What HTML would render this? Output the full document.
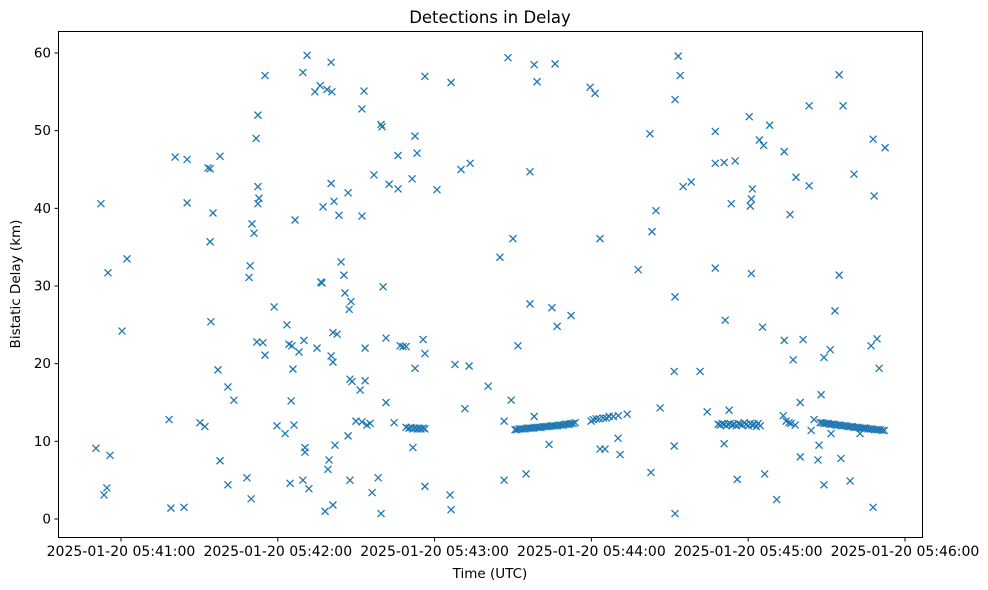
<!DOCTYPE html>
<html><head><meta charset="utf-8"><style>
html,body{margin:0;padding:0;background:#fff;}
svg{display:block;font-family:"DejaVu Sans","Liberation Sans",sans-serif;}
</style></head><body>
<svg id="chart" width="988" height="590" viewBox="0 0 988 590" xmlns="http://www.w3.org/2000/svg">
<rect x="0" y="0" width="988" height="590" fill="#fff"/>
<text x="490" y="23" text-anchor="middle" font-size="16.5">Detections in Delay</text>
<text x="490" y="578" text-anchor="middle" font-size="13.5">Time (UTC)</text>
<text transform="translate(20,284) rotate(-90)" text-anchor="middle" font-size="13.5">Bistatic Delay (km)</text>
<g id="ticks"></g>
<g id="marks"></g>
<rect x="58.5" y="31.5" width="864" height="506" fill="none" stroke="#000" stroke-width="1"/>
</svg>
<script>
// seconds after 2025-01-20 05:41:00 UTC
const times = [-9.6,-7.7,-6.5,-5.4,-5.0,-4.2,0.4,2.3,18.4,19.1,20.7,24.1,25.3,25.3,30.2,32.1,33.3,34.1,34.1,34.4,35.2,37.1,37.9,37.9,40.9,40.9,43.2,48.2,49.0,49.4,49.8,50.1,50.9,51.7,52.0,52.4,52.4,52.4,52.8,54.3,55.1,55.1,
58.6,59.7,62.8,63.5,64.3,64.7,65.1,65.4,65.8,66.2,66.6,68.1,69.6,69.6,70.0,70.4,70.4,71.2,71.9,74.2,75.0,76.2,76.5,76.9,77.3,78.1,78.8,79.2,79.6,80.4,80.4,80.4,80.7,81.1,81.1,81.1,81.5,81.9,82.7,83.4,84.2,85.3,85.7,86.9,86.9,87.3,87.6,87.6,88.0,88.4,89.9,91.5,92.2,92.2,92.2,93.0,93.4,93.4,94.1,95.3,96.1,96.8,98.4,99.5,99.5,99.9,100.3,101.4,101.4,102.6,104.5,106.0,106.0,106.8,107.9,109.1,
109.1,110.2,111.0,111.7,112.5,113.3,114.1,114.8,115.6,116.3,
111.4,111.7,112.5,112.5,113.3,115.6,116.3,116.3,116.3,120.9,125.9,126.3,126.3,127.8,130.1,131.6,133.2,133.6,140.5,
145.0,146.6,146.6,148.1,149.3,150.0,151.9,155.0,156.5,156.5,158.1,158.1,159.2,163.8,164.9,166.1,166.9,172.2,
150.8,151.5,152.3,153.0,153.8,154.6,155.4,156.1,156.9,157.7,158.4,159.2,160.0,160.7,161.5,162.3,163.0,163.8,164.6,165.3,166.1,166.9,167.6,168.4,169.2,169.9,170.7,171.5,172.2,173.0,173.8,
179.9,180.7,181.8,183.0,184.5,185.7,186.8,188.4,190.3,193.7,
179.5,181.4,183.3,183.3,185.2,190.2,191.0,197.9,202.8,202.4,203.2,204.7,206.3,211.7,211.7,212.0,212.0,212.0,213.2,214.0,215.1,218.2,
221.6,224.3,227.4,227.4,227.4,230.8,230.8,231.2,232.7,233.5,235.0,235.8,240.4,240.8,241.2,241.2,241.6,244.3,245.5,245.9,246.3,248.2,250.9,253.4,253.8,253.8,256.0,257.2,258.3,259.9,259.9,261.0,263.3,263.3,264.1,265.2,266.7,267.1,267.9,269.0,269.0,271.7,271.4,273.2,274.8,274.8,275.5,276.3,279.0,280.5,282.8,287.0,287.8,287.8,288.2,289.3,290.1,292.4,
228.5,229.3,230.0,230.8,231.6,232.3,233.1,233.9,234.6,235.4,236.2,236.9,237.7,238.5,239.2,240.0,240.8,241.5,242.3,243.1,243.8,244.6,
254.5,255.6,256.4,258.0,
267.5,268.3,269.0,269.8,270.6,271.3,272.1,272.9,273.6,274.4,275.2,275.9,276.7,277.5,278.2,279.0,279.8,280.5,281.3,282.1,282.8,283.6,284.4,285.1,285.9,286.7,287.4,288.2,289.0,289.7,290.5,291.3,292.1];
const delays = [9.1,40.6,3.1,4.0,31.7,8.2,24.2,33.5,12.8,1.4,46.6,1.5,46.3,40.7,12.4,11.9,45.2,45.1,35.7,25.4,39.4,19.2,46.7,7.5,4.4,17.0,15.3,5.3,31.1,32.6,2.6,38.0,36.8,49.0,22.8,52.0,42.8,40.6,41.3,22.7,21.1,57.1,
27.3,12.0,11.0,25.0,22.5,4.6,15.2,22.3,19.3,12.1,38.5,21.5,57.5,5.0,23.0,9.2,8.6,59.7,3.9,55.0,22.0,55.8,30.5,30.4,40.2,1.0,55.3,6.4,7.6,58.8,43.2,21.0,55.0,1.8,20.2,24.0,40.9,9.5,23.8,39.1,33.1,31.4,29.1,10.7,42.0,27.0,5.0,18.0,28.0,17.7,12.6,16.6,39.0,52.8,12.5,55.1,17.8,22.0,12.1,12.3,3.4,44.3,5.3,0.7,50.8,50.5,29.9,23.3,15.0,43.1,12.4,42.5,46.8,22.3,22.2,22.2,
11.8,11.7,11.8,11.6,11.7,11.6,11.7,11.6,11.7,11.6,
43.8,9.2,19.4,49.3,47.1,23.1,21.3,4.2,57.0,42.4,3.1,1.2,56.2,19.9,45.0,14.2,19.7,45.8,17.1,
33.7,12.6,5.0,59.4,15.3,36.1,22.3,5.8,44.7,27.7,13.2,58.5,56.3,9.6,27.2,58.6,24.8,26.2,
11.5,11.5,11.6,11.6,11.6,11.6,11.7,11.7,11.7,11.7,11.8,11.8,11.8,11.8,11.9,11.9,11.9,11.9,12.0,12.0,12.0,12.0,12.1,12.1,12.1,12.2,12.2,12.2,12.3,12.3,12.4,
12.6,12.8,12.9,12.9,13.0,13.0,13.2,13.2,13.3,13.5,
55.6,54.8,36.1,9.0,9.0,10.4,8.3,32.1,6.0,49.6,37.0,39.7,14.3,9.4,19.0,54.0,28.6,0.7,59.6,57.1,42.8,43.4,
19.0,13.8,32.3,49.9,45.8,45.9,9.7,25.6,14.0,40.6,46.1,5.1,51.8,40.3,31.6,41.2,42.5,48.8,24.7,48.1,5.8,50.7,2.5,13.3,47.3,23.0,39.2,20.5,44.0,8.0,15.0,23.1,53.2,42.9,11.4,12.8,7.6,9.5,16.0,4.4,20.8,11.0,21.8,26.8,57.2,31.4,7.8,53.2,4.9,44.4,11.0,22.3,48.9,1.5,41.6,23.2,19.4,47.8,
12.2,12.1,12.3,12.2,12.0,12.2,12.3,12.1,12.2,12.0,12.3,12.2,12.1,12.4,12.2,12.0,12.3,12.1,12.2,11.9,12.3,12.0,
12.6,12.4,12.3,12.1,
12.4,12.4,12.3,12.3,12.3,12.2,12.2,12.2,12.1,12.1,12.1,12.0,12.0,12.0,11.9,11.9,11.9,11.8,11.8,11.8,11.7,11.7,11.7,11.7,11.6,11.6,11.6,11.5,11.5,11.5,11.5,11.4,11.4];
const yTicks = [0,10,20,30,40,50,60];
const xTicks = [0,60,120,180,240,300];
const xTickLabels = ["2025-01-20 05:41:00","2025-01-20 05:42:00","2025-01-20 05:43:00","2025-01-20 05:44:00","2025-01-20 05:45:00","2025-01-20 05:46:00"];

const NS = "http://www.w3.org/2000/svg";
const X0 = 121, XS = 156.8/60;
const Y0 = 519, YS = 466/60;
function xs(t){ return X0 + t*XS; }
function ys(v){ return Y0 - v*YS; }

const tg = document.getElementById('ticks');
yTicks.forEach(v => {
  const y = ys(v);
  const l = document.createElementNS(NS,'line');
  l.setAttribute('x1',54.5); l.setAttribute('x2',58.5);
  l.setAttribute('y1',y); l.setAttribute('y2',y);
  l.setAttribute('stroke','#000');
  
  
  tg.appendChild(l);
  const t = document.createElementNS(NS,'text');
  t.setAttribute('x',51); t.setAttribute('y',y+4.5);
  t.setAttribute('text-anchor','end'); t.setAttribute('font-size','13.5');
  t.textContent = v;
  
  
  tg.appendChild(t);
});
xTicks.forEach((v,i) => {
  const x = xs(v);
  const l = document.createElementNS(NS,'line');
  l.setAttribute('x1',x); l.setAttribute('x2',x);
  l.setAttribute('y1',537.5); l.setAttribute('y2',541.5);
  l.setAttribute('stroke','#000');
  
  
  tg.appendChild(l);
  const t = document.createElementNS(NS,'text');
  t.setAttribute('x',x); t.setAttribute('y',556);
  t.setAttribute('text-anchor','middle'); t.setAttribute('font-size','14');
  t.textContent = xTickLabels[i];
  
  
  tg.appendChild(t);
});

const mg = document.getElementById('marks');
const n = Math.min(times.length, delays.length);
for (let i=0;i<n;i++){
  const cx = xs(times[i]), cy = ys(delays[i]), r = 3.5;
  const p = document.createElementNS(NS,'path');
  p.setAttribute('d',`M${cx-r},${cy-r}L${cx+r},${cy+r}M${cx-r},${cy+r}L${cx+r},${cy-r}`);
  p.setAttribute('stroke','#1f77b4');
  p.setAttribute('stroke-width','1.3');
  p.setAttribute('fill','none');
  
  
  mg.appendChild(p);
}
</script>
</body></html>
